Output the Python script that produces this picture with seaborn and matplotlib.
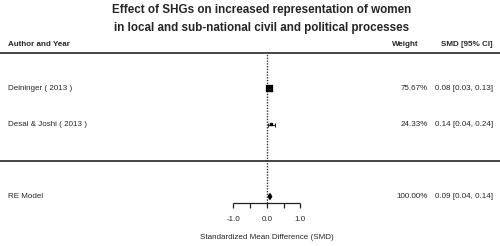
import numpy as np
import pandas as pd
import seaborn as sns
import matplotlib.pyplot as plt

sns.set_style("white")
plt.rcParams['font.family'] = ['Liberation Sans', 'DejaVu Sans']

# study data
studies = ['Deininger ( 2013 )', 'Desai & Joshi ( 2013 )']
smd = [0.08, 0.14]
ci_low = [0.03, 0.04]
ci_high = [0.13, 0.24]
weights = [75.67, 24.33]
rows = [2, 1]

# pooled (random effects) model
re_label = 'RE Model'
re_est, re_low, re_high = 0.09, 0.04, 0.14
re_weight = 100.00
re_row = -1

ticks = [-1.0, -0.5, 0.0, 0.5, 1.0]
tick_labels = ['-1.0', '', '0.0', '', '1.0']

df = pd.DataFrame({'study': studies, 'smd': smd, 'lo': ci_low, 'hi': ci_high,
                   'weight': weights, 'row': rows})

fig = plt.figure(figsize=(5, 2.46), dpi=100)
ax = fig.add_axes([0, 0, 1, 1])
ax.set_xlim(-7.97, 6.96)
ax.set_ylim(-2.375, 4.46)
ax.axis('off')

FS = 5.8
x_left, x_wt, x_ci = -7.73, 4.81, 6.75

# title
fig.text(0.523, 0.959, 'Effect of SHGs on increased representation of women',
         ha='center', va='center', fontsize=8.4, fontweight='bold')
fig.text(0.523, 0.886, 'in local and sub-national civil and political processes',
         ha='center', va='center', fontsize=8.4, fontweight='bold')

# header
ax.text(x_left, 3.21, 'Author and Year', fontsize=FS, fontweight='bold', va='center')
ax.text(4.54, 3.21, 'Weight', fontsize=FS, fontweight='bold', va='center', ha='right')
ax.text(x_ci, 3.21, 'SMD [95% CI]', fontsize=FS, fontweight='bold', va='center', ha='right')

# separator lines
ax.hlines([3, 0], -7.97, 6.96, color='#444444', lw=1.4)

# reference line at 0
ax.vlines(0, -1.19, 3, color='#333333', lw=1, linestyles=(0, (1, 1)))

# CIs
ax.errorbar(df['smd'], df['row'], xerr=[df['smd'] - df['lo'], df['hi'] - df['smd']],
            fmt='none', ecolor='#222222', elinewidth=0.8, capsize=1.5, capthick=0.8)
# weighted squares
sns.scatterplot(data=df, x='smd', y='row', size='weight', sizes=(5, 23), marker='s',
                color='black', edgecolor='black', legend=False, ax=ax, zorder=3)

# diamond for RE model
ax.fill([re_low, re_est, re_high, re_est], [re_row, re_row + 0.08, re_row, re_row - 0.08],
        color='black', zorder=3)

# text columns
for _, r in df.iterrows():
    ax.text(x_left, r['row'], r['study'], fontsize=FS, va='center')
    ax.text(x_wt, r['row'], f"{r['weight']:.2f}%", fontsize=FS, va='center', ha='right')
    ax.text(x_ci, r['row'], f"{r['smd']:.2f} [{r['lo']:.2f}, {r['hi']:.2f}]",
            fontsize=FS, va='center', ha='right')
ax.text(x_left, re_row, re_label, fontsize=FS, va='center')
ax.text(x_wt, re_row, f'{re_weight:.2f}%', fontsize=FS, va='center', ha='right')
ax.text(x_ci, re_row, f'{re_est:.2f} [{re_low:.2f}, {re_high:.2f}]',
        fontsize=FS, va='center', ha='right')

# x axis drawn by hand
axis_y = -1.19
ax.hlines(axis_y, ticks[0], ticks[-1], color='#222222', lw=0.9)
ax.vlines(ticks, axis_y, axis_y - 0.14, color='#222222', lw=0.9)
for t, lab in zip(ticks, tick_labels):
    ax.text(t, -1.65, lab, fontsize=FS, ha='center', va='center')
ax.text(0, -2.15, 'Standardized Mean Difference (SMD)', fontsize=FS, ha='center', va='center')

fig.savefig('out.png', dpi=100)
